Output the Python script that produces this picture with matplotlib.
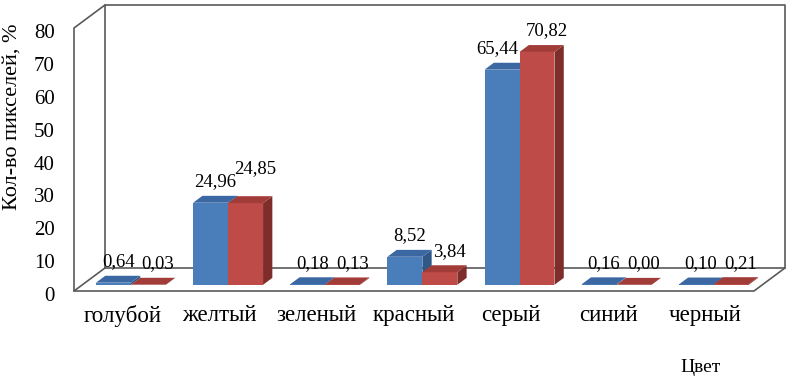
import matplotlib.pyplot as plt
from matplotlib.patches import Polygon
from matplotlib.transforms import ScaledTranslation

plt.rcParams['font.family'] = ['Liberation Serif', 'DejaVu Serif']

categories = ['голубой', 'желтый', 'зеленый', 'красный', 'серый', 'синий', 'черный']
series_1 = [0.64, 24.96, 0.18, 8.52, 65.44, 0.16, 0.10]
series_2 = [0.03, 24.85, 0.13, 3.84, 70.82, 0.00, 0.21]
y_ticks = [0, 10, 20, 30, 40, 50, 60, 70, 80]

# oblique "3d" settings (in data units)
DX = 0.319      # full depth shift along x (category units)
DY = 7.0        # full depth shift along y (value units)
F0 = 0.27       # depth where the bar front sits
FD = 0.30       # bar depth
BAR_W = 0.36
LINE = '#5a5a5a'

blue = ('#4a7ebb', '#3b68a3', '#2f5889')
red = ('#be4b48', '#a23c39', '#7e2d2b')


def fmt(v):
    return f"{v:.2f}".replace('.', ',')


def draw_bar(ax, x0, v, colors, lift=0, shift=0):
    front, top, side = colors
    sx, sy = F0 * DX, F0 * DY
    ddx, ddy = FD * DX, FD * DY
    x1 = x0 + BAR_W
    fr = [(x0 + sx, sy), (x1 + sx, sy), (x1 + sx, sy + v), (x0 + sx, sy + v)]
    tp = [(x0 + sx, sy + v), (x1 + sx, sy + v),
          (x1 + sx + ddx, sy + v + ddy), (x0 + sx + ddx, sy + v + ddy)]
    sd = [(x1 + sx, sy), (x1 + sx + ddx, sy + ddy),
          (x1 + sx + ddx, sy + v + ddy), (x1 + sx, sy + v)]
    for pts, c in ((sd, side), (fr, front), (tp, top)):
        ax.add_patch(Polygon(pts, closed=True, facecolor=c, edgecolor='none',
                             clip_on=False, zorder=3))
    cx = (x0 + x1) / 2 + sx + ddx / 2
    ax.annotate(fmt(v), (cx, v + sy + ddy), xytext=(shift, 4 + lift),
                textcoords='offset points', ha='center', va='bottom',
                fontsize=13.5, zorder=5, annotation_clip=False)


fig = plt.figure(figsize=(7.92, 3.79), dpi=100)
ax = fig.add_axes([74 / 792, 88 / 379, 680 / 792, 263 / 379])
n = len(categories)
ax.set_xlim(-0.5, n - 0.5)
ax.set_ylim(0, 80)
for s in ax.spines.values():
    s.set_visible(False)

# walls
x_l, x_r = -0.5, n - 0.5
ymax = y_ticks[-1]
walls = [
    [(x_l + DX, DY), (x_l + DX, ymax + DY), (x_r + DX, ymax + DY), (x_r + DX, DY), (x_l + DX, DY)],
    [(x_l + DX, ymax + DY), (x_l, ymax), (x_l, 0), (x_l + DX, DY)],
    [(x_l, 0), (x_r, 0), (x_r + DX, DY)],
]
for w in walls:
    xs, ys = zip(*w)
    ax.plot(xs, ys, color=LINE, lw=1.2, clip_on=False, zorder=1)

for i in range(n):
    a, b = series_1[i], series_2[i]
    # keep labels of equal-height neighbours from colliding
    lift = 10 if abs(a - b) < 3 and a > 5 else 0
    shift = -7 if b - a > 3 and a > 20 else 0
    draw_bar(ax, i - BAR_W, a, blue, shift=shift)
    draw_bar(ax, i, b, red, lift=lift, shift=3.5)

ax.set_yticks(y_ticks)
ax.set_yticklabels([str(t) for t in y_ticks], fontsize=15)
ax.set_xticks(range(n))
ax.set_xticklabels(categories, fontsize=16.5)
ax.tick_params(axis='y', length=0, pad=14)
ax.tick_params(axis='x', length=0, pad=10)
down = ScaledTranslation(0, -3 / 100, fig.dpi_scale_trans)
for lab in ax.get_yticklabels():
    lab.set_transform(lab.get_transform() + down)

fig.text(12 / 792, 1 - 117 / 379, 'Кол-во пикселей, %', rotation=90,
         ha='center', va='center', fontsize=16)
fig.text(701 / 792, 1 - 367 / 379, 'Цвет', ha='center', va='center', fontsize=14)

fig.savefig('out.png', dpi=100)
